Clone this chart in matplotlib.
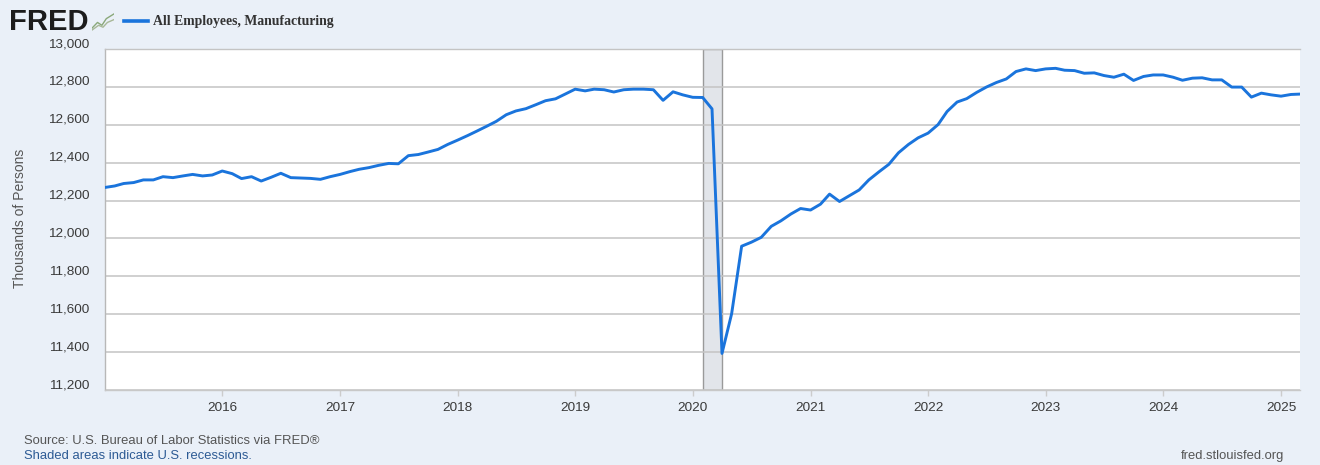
import matplotlib
matplotlib.use("Agg")
import matplotlib.pyplot as plt
import matplotlib.dates as mdates
import matplotlib.transforms as mtransforms
import pandas as pd

# ---- data (thousands of persons, monthly) ----
v2015 = [12269, 12277, 12290, 12295, 12309, 12309, 12326, 12321, 12330, 12338, 12330, 12335]
v2016 = [12356, 12342, 12316, 12326, 12303, 12323, 12344, 12321, 12319, 12317, 12312, 12326]
v2017 = [12338, 12353, 12365, 12374, 12386, 12396, 12394, 12437, 12443, 12456, 12470, 12496]
v2018 = [12519, 12543, 12566, 12592, 12618, 12653, 12673, 12685, 12706, 12727, 12737, 12762]
v2019 = [12788, 12779, 12788, 12785, 12773, 12785, 12788, 12788, 12785, 12729, 12774, 12758]
v2020 = [12745, 12744, 12684, 11393, 11603, 11959, 11980, 12006, 12064, 12093, 12129, 12158]
v2021 = [12150, 12181, 12234, 12195, 12225, 12256, 12309, 12351, 12391, 12452, 12496, 12531]
v2022 = [12556, 12601, 12670, 12720, 12738, 12771, 12799, 12823, 12842, 12881, 12895, 12886]
v2023 = [12895, 12898, 12888, 12886, 12872, 12874, 12860, 12851, 12867, 12834, 12855, 12863]
v2024 = [12863, 12851, 12835, 12846, 12848, 12837, 12837, 12799, 12799, 12746, 12767, 12758]
v2025 = [12751, 12760, 12762]
start_month = "2015-01-01"
recession = ("2020-02-01", "2020-04-01")
y_ticks = [11200, 11400, 11600, 11800, 12000, 12200, 12400, 12600, 12800, 13000]
x_tick_years = list(range(2016, 2026))
series_name = "All Employees, Manufacturing"
y_label = "Thousands of Persons"

values = v2015 + v2016 + v2017 + v2018 + v2019 + v2020 + v2021 + v2022 + v2023 + v2024 + v2025
dates = pd.date_range(start_month, periods=len(values), freq="MS")

# ---- style ----
BG = "#eaf0f8"
LINE = "#1a74dc"
GRID = "#c4c4c4"
TXT = "#3a3a3a"

plt.rcParams["font.family"] = ["Liberation Sans", "DejaVu Sans"]

fig = plt.figure(figsize=(13.2, 4.65), dpi=100, facecolor=BG)
ax = fig.add_axes([104.7 / 1320, 1 - 390 / 465, (1300 - 104.7) / 1320, (390 - 49) / 465])
ax.set_facecolor("white")

ax.axvspan(pd.Timestamp(recession[0]), pd.Timestamp(recession[1]),
           facecolor="#e2e5ea", edgecolor="#9a9a9a", lw=1.0, zorder=0.4)
ax.plot(dates, values, color=LINE, lw=2.1, zorder=3, solid_joinstyle="round")

ax.set_ylim(11200, 13000)
ax.set_xlim(dates[0], dates[-1])
ax.set_yticks(y_ticks)
ax.set_yticklabels([f"{t:,}" for t in y_ticks])
ax.set_xticks([pd.Timestamp(f"{y}-01-01") for y in x_tick_years])
ax.xaxis.set_major_formatter(mdates.DateFormatter("%Y"))

ax.set_axisbelow(True)
ax.grid(axis="y", color=GRID, lw=1.1)
ax.grid(axis="x", visible=False)

ax.spines["right"].set_visible(False)
ax.spines["top"].set_color(GRID)
ax.spines["left"].set_color("#b8b8b8")
ax.spines["bottom"].set_color("#c8c8c8")
for s in ["top", "left", "bottom"]:
    ax.spines[s].set_linewidth(1.0)

ax.tick_params(axis="y", length=0, pad=11, labelsize=9.7, labelcolor=TXT)
offset = mtransforms.ScaledTranslation(0, 2.0 / 100, fig.dpi_scale_trans)
for lbl in ax.get_yticklabels():
    lbl.set_verticalalignment("baseline")
    lbl.set_transform(lbl.get_transform() + offset)
ax.tick_params(axis="x", length=4.5, width=1, color="#cccccc", pad=4, labelsize=9.7, labelcolor=TXT)

fig.text(20 / 1320, 1 - 218 / 465, y_label, rotation=90, ha="center", va="center",
         fontsize=10, color="#555555")

# ---- header ----
fig.text(9 / 1320, 1 - 22 / 465, "FRED", fontsize=21, fontweight="bold", color="#1c1c1c",
         ha="left", va="center", family=["Liberation Sans", "DejaVu Sans"])
# small logo icon
icon = fig.add_axes([92 / 1320, 1 - 31 / 465, 22 / 1320, 19 / 465])
icon.set_facecolor("#e4e9e2")
icon.plot([0, 0.25, 0.45, 0.65, 1.0], [0.15, 0.45, 0.3, 0.65, 0.9], color="#8aa87a", lw=1.0)
icon.plot([0, 0.3, 0.5, 0.7, 1.0], [0.05, 0.3, 0.2, 0.45, 0.6], color="#a8b898", lw=1.0)
icon.set_xlim(0, 1)
icon.set_ylim(0, 1)
icon.axis("off")

fig.lines.append(plt.Line2D([124 / 1320, 148 / 1320], [1 - 21 / 465, 1 - 21 / 465],
                            transform=fig.transFigure, color=LINE, lw=2.6))
fig.text(153 / 1320, 1 - 21 / 465, series_name, fontsize=9.9, fontweight="bold",
         color="#333333", ha="left", va="center", family=["Liberation Serif", "DejaVu Serif"])

# ---- footer ----
fig.text(24 / 1320, 1 - 441 / 465, "Source: U.S. Bureau of Labor Statistics via FRED\u00ae",
         fontsize=9.4, color="#555555", ha="left", va="center")
fig.text(24 / 1320, 1 - 456 / 465, "Shaded areas indicate U.S. recessions.",
         fontsize=9.4, color="#2c5a94", ha="left", va="center")
fig.text(1284 / 1320, 1 - 456 / 465, "fred.stlouisfed.org",
         fontsize=9.4, color="#555555", ha="right", va="center")

fig.savefig("out.png", dpi=100, facecolor=BG)
